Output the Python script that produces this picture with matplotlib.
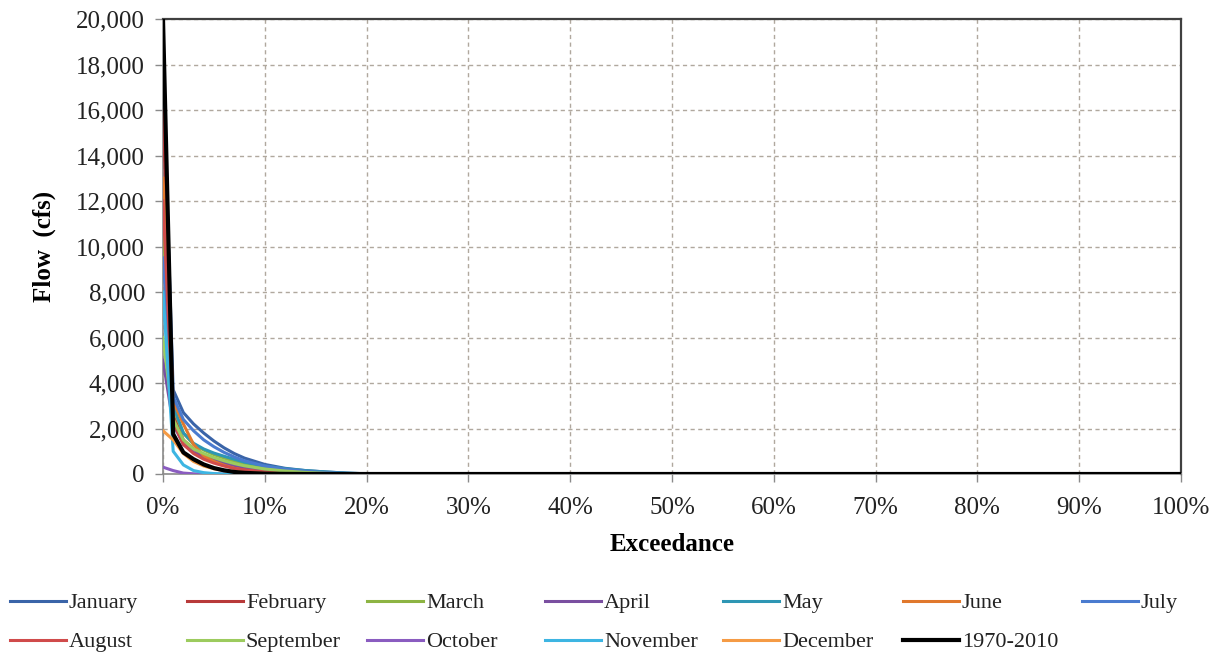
import matplotlib
matplotlib.use("Agg")
import matplotlib.pyplot as plt
from matplotlib.ticker import FuncFormatter, MultipleLocator

# Flow-duration data: exceedance probability (%) vs. flow (cfs)
exceedance = [0, 1, 2, 3, 4, 5, 6, 7, 8, 10, 12, 14, 16, 18, 20, 100]

january = [17500, 3700, 2700, 2200, 1800, 1450, 1150, 900, 700, 420, 250, 150, 90, 40, 10, 0]
february = [16000, 2600, 1500, 1100, 850, 650, 500, 380, 280, 160, 90, 50, 25, 10, 0, 0]
march = [11000, 2900, 1800, 1300, 1050, 850, 700, 560, 440, 280, 170, 100, 50, 20, 5, 0]
april = [5000, 2200, 1300, 950, 750, 600, 480, 380, 300, 180, 110, 60, 30, 10, 0, 0]
may = [8000, 3000, 1800, 1350, 1100, 920, 780, 650, 520, 350, 230, 150, 90, 40, 10, 0]
june = [13000, 3200, 2200, 1300, 800, 550, 380, 250, 160, 70, 30, 10, 0, 0, 0, 0]
july = [9500, 3400, 2400, 1900, 1500, 1200, 950, 750, 580, 350, 210, 120, 60, 25, 5, 0]
august = [12000, 2300, 1300, 900, 650, 480, 350, 250, 180, 90, 40, 15, 0, 0, 0, 0]
september = [6000, 2400, 1500, 1100, 900, 720, 580, 460, 360, 220, 130, 70, 30, 10, 0, 0]
october = [300, 150, 40, 10, 0, 0, 0, 0, 0, 0, 0, 0, 0, 0, 0, 0]
november = [8000, 1000, 400, 150, 60, 20, 0, 0, 0, 0, 0, 0, 0, 0, 0, 0]
december = [1900, 1500, 900, 550, 350, 230, 150, 100, 60, 20, 5, 0, 0, 0, 0, 0]
period_1970_2010 = [20000, 1750, 950, 650, 420, 260, 160, 90, 50, 15, 5, 0, 0, 0, 0, 0]

series_names = ["January", "February", "March", "April", "May", "June", "July",
                "August", "September", "October", "November", "December", "1970-2010"]
series_values = [january, february, march, april, may, june, july,
                 august, september, october, november, december, period_1970_2010]
series_colors = ["#3A64A8", "#B83A3A", "#8DB443", "#7A4FA0", "#2E96B4", "#E0782C",
                 "#4A7BCF", "#D04B4B", "#9CCB5E", "#8A5CC0", "#3DB5E2", "#F59B45", "#000000"]

plt.rcParams["font.family"] = ["Liberation Serif", "DejaVu Serif"]

W, H = 1221, 654
fig = plt.figure(figsize=(W / 100, H / 100), dpi=100)
ax = fig.add_axes([163 / W, 1 - 474 / H, (1181 - 163) / W, (474 - 19) / H])

handles = []
for name, vals, col in zip(series_names, series_values, series_colors):
    lw = 3.0 if name == "1970-2010" else 2.2
    (ln,) = ax.plot(exceedance, vals, color=col, lw=lw, label=name,
                    solid_joinstyle="round", zorder=3)
    handles.append(ln)

ax.set_xlim(0, 100)
ax.set_ylim(0, 20000)
ax.xaxis.set_major_locator(MultipleLocator(10))
ax.yaxis.set_major_locator(MultipleLocator(2000))
ax.xaxis.set_major_formatter(FuncFormatter(lambda v, p: f"{v:.0f}%"))
ax.yaxis.set_major_formatter(FuncFormatter(lambda v, p: f"{v:,.0f}"))

ax.grid(True, linestyle=(0, (3, 2.5)), color="#B0A89E", linewidth=1.0, zorder=0)
ax.set_axisbelow(True)

for side in ("top", "right"):
    ax.spines[side].set_color("#404040")
    ax.spines[side].set_linewidth(1.6)
for side in ("left", "bottom"):
    ax.spines[side].set_color("#8A8A8A")
    ax.spines[side].set_linewidth(1.2)

ax.tick_params(axis="both", which="major", length=5.8, width=1.0, color="#8A8A8A",
               labelsize=18, labelcolor="#222222")
ax.tick_params(axis="y", pad=7.2)
ax.tick_params(axis="x", pad=11)

ax.set_xlabel("Exceedance", fontsize=18, fontweight="bold", labelpad=10)
ax.set_ylabel("Flow  (cfs)", fontsize=18, fontweight="bold")
ax.yaxis.set_label_coords(-0.105, 0.5)

# Legend laid out as an evenly spaced 7-column grid below the plot
col_x = [10, 187, 367, 545, 723, 903, 1082]
row_y = [603, 642]
for i, h in enumerate(handles):
    r, c = divmod(i, 7)
    leg = fig.legend([h], [h.get_label()], loc="center left",
                     bbox_to_anchor=(col_x[c] / W, 1 - row_y[r] / H),
                     frameon=False, fontsize=16, handlelength=2.5,
                     handletextpad=0.15, borderpad=0, borderaxespad=0)
    for t in leg.get_texts():
        t.set_color("#222222")

fig.savefig("out.png", dpi=100)
